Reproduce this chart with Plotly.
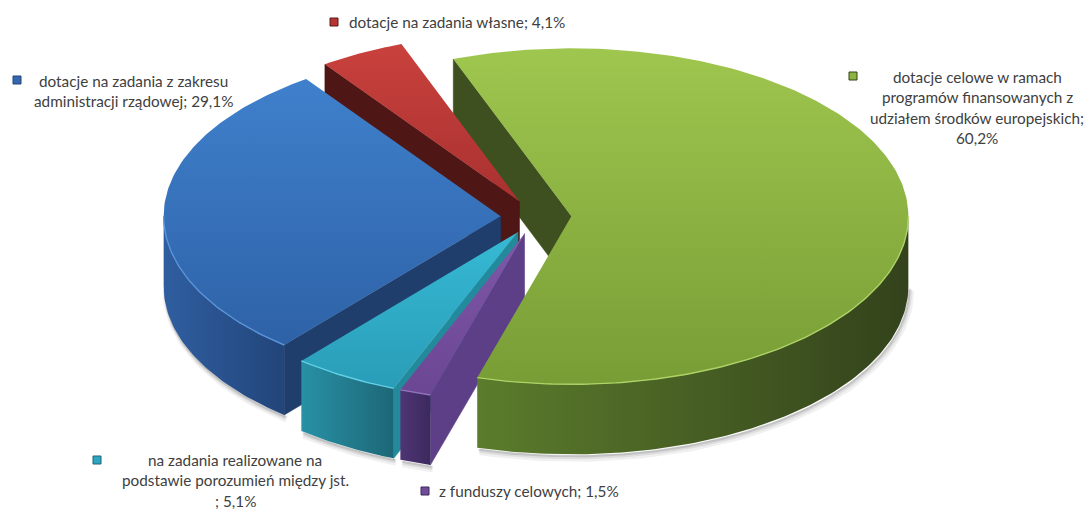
import textwrap
import numpy as np
import plotly.graph_objects as go

# ---------------- data ----------------
categories = [
    "dotacje celowe w ramach programów finansowanych z udziałem środków europejskich",
    "z funduszy celowych",
    "na zadania realizowane na podstawie porozumień między jst.",
    "dotacje na zadania z zakresu administracji rządowej",
    "dotacje na zadania własne",
]
values = [60.2, 1.5, 5.1, 29.1, 4.1]

# ---------------- style ----------------
top_light = ["#9fc64e", "#7f58a8", "#36b9d4", "#3f80cc", "#c9413d"]
top_dark = ["#789d36", "#6b4693", "#2a9db8", "#2e62a7", "#a93130"]
rim_left = ["#5b7c2c", "#4e3575", "#2891a5", "#2f5ea0", "#8a2a28"]
rim_right = ["#33421b", "#3c295d", "#1d6777", "#22457a", "#5a1a1a"]
wall_col = ["#3e501f", "#5c3f86", "#238a9c", "#1f3e6b", "#4f1616"]
edge_hi = ["#aed266", "#9273bb", "#5fd0e6", "#5a93d8", "#d65a55"]
marker_col = ["#8cb43f", "#6f4b98", "#2ea6c2", "#3566b0", "#b53533"]

wrap_width = [30, 40, 32, 29, 40]
label_mode = ["center", "left", "center", "center", "left"]
label_marker = [(853, 76), (425, 491), (97, 460), (17, 80), (334, 22)]
label_anchor = [(977, 77), (437, 491), (235, 460), (133, 81), (347, 22)]
LINE_PITCH = 20.4
FONT = "Lato"
FONT_SIZE = 15.3
TEXT_COL = "#404040"

W, H = 1091, 509
A, B, D = 337, 168, 70          # ellipse radii and depth (px)
CX, CY = 536, 217               # centre of top face (px)
ROT = -20.5                     # angle of first slice (deg, clockwise from top)
EXPL = 0.105                    # explosion (fraction of radius)

# ---------------- geometry ----------------
vals = np.array(values, dtype=float)
frac = vals / vals.sum()
starts = ROT + 360 * np.concatenate([[0], np.cumsum(frac)[:-1]])
ends = starts + 360 * frac


def proj(X, Y, z):
    return CX + A * np.asarray(X), CY - B * np.asarray(Y) + D * z


def arc(th0, th1, ox, oy, z, n=None):
    if n is None:
        n = max(int(abs(th1 - th0) / 1.0) + 2, 3)
    t = np.radians(np.linspace(th0, th1, n))
    return proj(np.sin(t) + ox, np.cos(t) + oy, z)


fig = go.Figure()

walls, rims, tops, highlights, shadows = [], [], [], [], []

for i in range(len(vals)):
    s, e = starts[i], ends[i]
    m = np.radians((s + e) / 2)
    ox, oy = EXPL * np.sin(m), EXPL * np.cos(m)
    ax0, ay0 = proj(ox, oy, 0)
    ax1, ay1 = proj(ox, oy, 1)

    # top face
    tx, ty = arc(s, e, ox, oy, 0)
    tops.append((i, np.concatenate([[ax0], tx, [ax0]]), np.concatenate([[ay0], ty, [ay0]])))

    # front rim (visible part: angles 90..270)
    for k in (-1, 0, 1):
        lo, hi = max(s, 90 + 360 * k), min(e, 270 + 360 * k)
        if hi > lo:
            x0, y0 = arc(lo, hi, ox, oy, 0)
            x1, y1 = arc(lo, hi, ox, oy, 1)
            px = np.concatenate([x0, x1[::-1], [x0[0]]])
            py = np.concatenate([y0, y1[::-1], [y0[0]]])
            cy_ = np.mean(np.cos(np.radians(np.linspace(lo, hi, 20)))) + oy
            rims.append((cy_, i, px, py))
            highlights.append((i, x0, y0))
            shadows.append((x1, y1))

    # side walls
    sm = np.radians(s)
    if np.sin(sm) < -1e-6:
        rx0, ry0 = proj(np.sin(sm) + ox, np.cos(sm) + oy, 0)
        rx1, ry1 = proj(np.sin(sm) + ox, np.cos(sm) + oy, 1)
        dist = 360 - (s % 360)
        walls.append((dist, i, [ax0, rx0, rx1, ax1, ax0], [ay0, ry0, ry1, ay1, ay0]))
    em = np.radians(e)
    if np.sin(em) > 1e-6:
        rx0, ry0 = proj(np.sin(em) + ox, np.cos(em) + oy, 0)
        rx1, ry1 = proj(np.sin(em) + ox, np.cos(em) + oy, 1)
        dist = e % 360
        walls.append((dist, i, [ax0, rx0, rx1, ax1, ax0], [ay0, ry0, ry1, ay1, ay0]))

# soft shadow below rims
for sx, sy in shadows:
    for off, wdt, alpha in ((4, 7, 0.06), (3, 4, 0.08), (2, 2, 0.12)):
        fig.add_trace(go.Scatter(x=sx + off * 0.6, y=sy + off, mode="lines",
                                 line=dict(color=f"rgba(0,0,0,{alpha})", width=wdt),
                                 hoverinfo="skip"))

for dist, i, px, py in sorted(walls, key=lambda w: w[0]):
    fig.add_trace(go.Scatter(x=px, y=py, mode="lines", fill="toself",
                             fillcolor=wall_col[i],
                             line=dict(color=wall_col[i], width=0.6),
                             hoverinfo="skip"))

for cyk, i, px, py in sorted(rims, key=lambda r: -r[0]):
    fig.add_trace(go.Scatter(x=px, y=py, mode="lines", fill="toself",
                             fillgradient=dict(type="horizontal",
                                               colorscale=[[0, rim_left[i]], [1, rim_right[i]]]),
                             line=dict(color=rim_right[i], width=0),
                             hoverinfo="skip"))

# vertical gradient: colorscale 0 sits at the bottom of the screen here
for i, px, py in tops:
    fig.add_trace(go.Scatter(x=px, y=py, mode="lines", fill="toself",
                             fillgradient=dict(type="vertical",
                                               colorscale=[[0, top_dark[i]], [1, top_light[i]]]),
                             line=dict(color=top_dark[i], width=0),
                             hoverinfo="skip"))

for i, px, py in highlights:
    fig.add_trace(go.Scatter(x=px, y=py, mode="lines",
                             line=dict(color=edge_hi[i], width=1.4),
                             hoverinfo="skip"))

# ---------------- labels ----------------
def fmt(v):
    return f"{v:.1f}".replace(".", ",") + "%"

for i, cat in enumerate(categories):
    text = f"{cat}; {fmt(values[i])}"
    if categories[i].endswith("."):
        text = f"{cat} ; {fmt(values[i])}"
    lines = textwrap.wrap(text, wrap_width[i])
    mx, my = label_marker[i]
    fig.add_trace(go.Scatter(x=[mx], y=[my], mode="markers",
                             marker=dict(symbol="square", size=8, color=marker_col[i],
                                         line=dict(color=rim_right[i], width=1)),
                             hoverinfo="skip"))
    lx, ly = label_anchor[i]
    for j, ln in enumerate(lines):
        fig.add_annotation(x=lx, y=ly + j * LINE_PITCH, text=ln, showarrow=False,
                           xanchor="center" if label_mode[i] == "center" else "left",
                           yanchor="middle",
                           font=dict(family=FONT, size=FONT_SIZE, color=TEXT_COL))

fig.update_layout(
    width=W, height=H, margin=dict(l=0, r=0, t=0, b=0),
    paper_bgcolor="white", plot_bgcolor="white", showlegend=False,
    xaxis=dict(range=[0, W], visible=False, fixedrange=True),
    yaxis=dict(range=[H, 0], visible=False, fixedrange=True),
)

fig.write_html("out.html", config={"displayModeBar": False},
               post_script="document.body.style.margin='0';document.body.style.overflow='hidden';")
